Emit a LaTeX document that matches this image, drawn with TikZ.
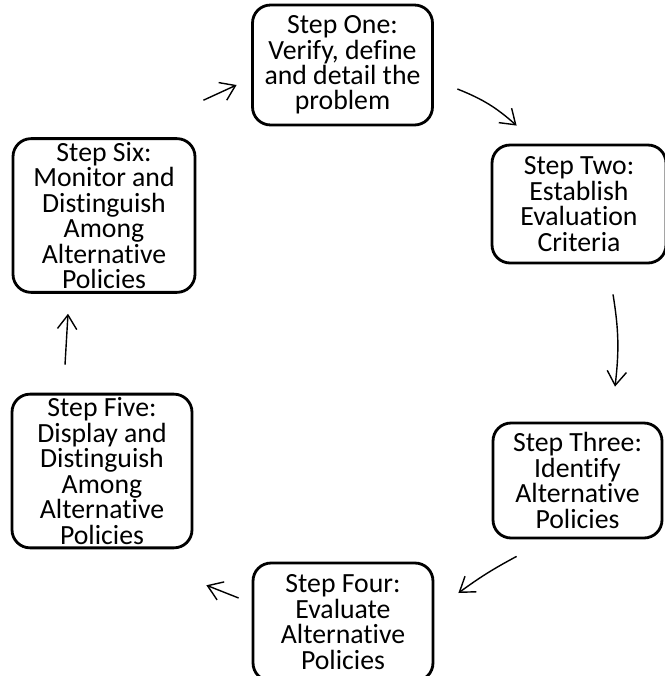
\documentclass[tikz,border=0pt]{standalone}
\usepackage{fontspec}
\setmainfont{Carlito}[Ligatures=NoCommon]
\usetikzlibrary{arrows.meta}
\tikzset{
  stepbox/.style={draw, line width=1.6pt, rounded corners=0.36cm, align=center,
    inner sep=2pt, font=\fontsize{15.8pt}{14.5pt}\selectfont},
  cyclearrow/.style={line width=0.8pt, -{Straight Barb[length=8pt,width=11pt]}}
}
\begin{document}
\begin{tikzpicture}[x=0.02cm, y=-0.02cm]
\useasboundingbox (0,0) rectangle (664,676);

% 1. Les six etapes
\node[stepbox, minimum width=3.6cm, minimum height=2.4cm] (one) at (342.5,65)
  {Step One:\\Verify, define\\and detail the\\problem};
\node[stepbox, minimum width=3.48cm, minimum height=2.36cm] (two) at (579,204)
  {Step Two:\\Establish\\Evaluation\\Criteria};
\node[stepbox, minimum width=3.38cm, minimum height=2.3cm] (three) at (577.5,480.5)
  {Step Three:\\Identify\\Alternative\\Policies};
\node[stepbox, minimum width=3.6cm, minimum height=2.36cm] (four) at (343,622)
  {Step Four:\\Evaluate\\Alternative\\Policies};
\node[stepbox, minimum width=3.6cm, minimum height=3.04cm] (five) at (102,471)
  {Step Five:\\Display and\\Distinguish\\Among\\Alternative\\Policies};
\node[stepbox, minimum width=3.64cm, minimum height=3.02cm] (six) at (104,215.5)
  {Step Six:\\Monitor and\\Distinguish\\Among\\Alternative\\Policies};

% 2. Les fleches du cycle
\draw[cyclearrow] ([shift={(7,-37)}]six.north east) -- ([shift={(-14.5,20)}]one.west);
\draw[cyclearrow] ([shift={(23.5,24)}]one.east) to[bend left=10] ([shift={(26,-18)}]two.north west);
\draw[cyclearrow] ([shift={(34,30)}]two.south) to[bend left=8] ([shift={(37.5,-35)}]three.north);
\draw[cyclearrow] ([shift={(25,17)}]three.south west) to[bend right=4] ([shift={(24,-29)}]four.east);
\draw[cyclearrow] ([shift={(-13,-24)}]four.west) -- ([shift={(13,36)}]five.south east);
\draw[cyclearrow] ([shift={(-37,-28)}]five.north) -- ([shift={(-36,20)}]six.south);
\end{tikzpicture}
\end{document}
